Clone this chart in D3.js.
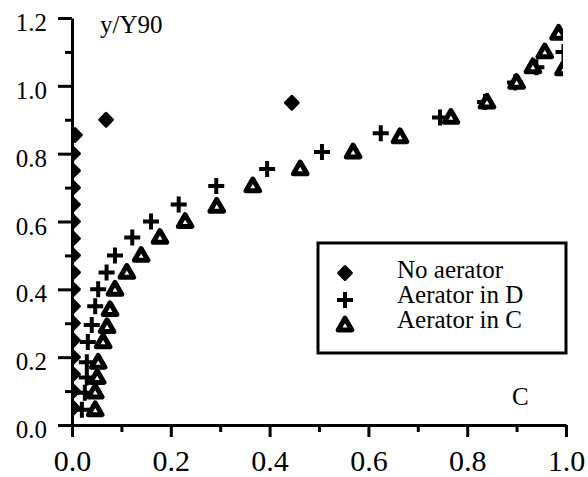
<!DOCTYPE html>
<html>
<head>
<meta charset="utf-8">
<script src="https://cdn.jsdelivr.net/npm/d3@7"></script>
<style>
  body { margin: 0; background: #fff; }
  svg { display: block; }
</style>
</head>
<body>
<script>
// y/Y90 against C for the three cases
var noAeratorC = [0.002, 0.002, 0.002, 0.002, 0.002, 0.002, 0.002, 0.002, 0.002, 0.002, 0.002, 0.002, 0.002, 0.002, 0.002, 0.002, 0.006, 0.069, 0.445];
var noAeratorY = [0.05, 0.10, 0.15, 0.20, 0.25, 0.30, 0.35, 0.40, 0.45, 0.50, 0.55, 0.60, 0.65, 0.70, 0.75, 0.80, 0.855, 0.90, 0.95];

var aeratorDC = [0.02, 0.026, 0.03, 0.03, 0.032, 0.04, 0.047, 0.053, 0.07, 0.087, 0.122, 0.16, 0.216, 0.292, 0.395, 0.506, 0.625, 0.745, 0.836, 0.897, 0.94, 0.995];
var aeratorDY = [0.045, 0.095, 0.14, 0.185, 0.245, 0.295, 0.35, 0.40, 0.45, 0.50, 0.553, 0.60, 0.65, 0.705, 0.755, 0.805, 0.86, 0.907, 0.952, 1.01, 1.055, 1.10];

var aeratorCC = [0.047, 0.047, 0.051, 0.053, 0.063, 0.071, 0.077, 0.087, 0.111, 0.14, 0.178, 0.229, 0.293, 0.366, 0.462, 0.569, 0.664, 0.767, 0.84, 0.90, 0.933, 0.957, 0.985, 0.995];
var aeratorCY = [0.045, 0.097, 0.14, 0.185, 0.245, 0.29, 0.34, 0.40, 0.45, 0.50, 0.553, 0.60, 0.645, 0.705, 0.755, 0.805, 0.85, 0.907, 0.952, 1.01, 1.056, 1.10, 1.155, 1.05];

var xTicks = [0, 0.2, 0.4, 0.6, 0.8, 1.0];
var xMinor = [0.1, 0.3, 0.5, 0.7, 0.9];
var yTicks = [0, 0.2, 0.4, 0.6, 0.8, 1.0, 1.2];
var yMinor = [0.1, 0.3, 0.5, 0.7, 0.9, 1.1];
var legendLabels = ["No aerator", "Aerator in D", "Aerator in C"];

var serif = "Liberation Serif, Times New Roman, serif";
var width = 588, height = 477;

var svg = d3.select("body").append("svg")
  .attr("width", width)
  .attr("height", height)
  .attr("font-family", serif);

var x = d3.scaleLinear().domain([0, 1]).range([72, 566]);
var y = d3.scaleLinear().domain([0, 1.2]).range([425, 18]);
var fmt = d3.format(".1f");

// clip so markers sitting on the edges get cut like in the original
svg.append("clipPath").attr("id", "plotClip")
  .append("rect")
  .attr("x", 72).attr("y", 0)
  .attr("width", 563 - 72).attr("height", 430);

// axes
var yAxis = svg.append("g")
  .attr("transform", "translate(" + x(0) + ",0)")
  .call(d3.axisLeft(y).tickValues(yTicks).tickSize(14).tickSizeOuter(0).tickPadding(11).tickFormat(fmt));
svg.append("g")
  .attr("transform", "translate(" + x(0) + ",0)")
  .call(d3.axisLeft(y).tickValues(yMinor).tickSize(7).tickSizeOuter(0).tickFormat(""))
  .select(".domain").remove();

var xAxis = svg.append("g")
  .attr("transform", "translate(0," + y(0) + ")")
  .call(d3.axisBottom(x).tickValues(xTicks).tickSize(12).tickSizeOuter(0).tickFormat(fmt));
svg.append("g")
  .attr("transform", "translate(0," + y(0) + ")")
  .call(d3.axisBottom(x).tickValues(xMinor).tickSize(7).tickSizeOuter(0).tickFormat(""))
  .select(".domain").remove();

svg.selectAll(".domain").attr("stroke", "#000").attr("stroke-width", 3);
svg.selectAll(".tick line").attr("stroke", "#000").attr("stroke-width", 3);

yAxis.attr("font-family", serif).attr("font-size", 25);
yAxis.selectAll("text").attr("dy", "0.5em").attr("fill", "#000");
xAxis.attr("font-family", serif).attr("font-size", 30);
xAxis.selectAll("text").attr("y", 46).attr("dy", 0).attr("fill", "#000");

// marker shapes
var diamond = d3.symbol().type(d3.symbolSquare).size(81);
var triangle = d3.symbol().type(d3.symbolTriangle).size(80);
var plusPath = "M-8,0H8M0,-8V8";

function drawDiamond(g, px, py) {
  g.append("path")
    .attr("d", diamond())
    .attr("transform", "translate(" + px + "," + py + ") rotate(45)")
    .attr("fill", "#000").attr("stroke", "#000")
    .attr("stroke-width", 3).attr("stroke-linejoin", "round");
}
function drawPlus(g, px, py) {
  g.append("path")
    .attr("d", plusPath)
    .attr("transform", "translate(" + px + "," + py + ")")
    .attr("fill", "none").attr("stroke", "#000").attr("stroke-width", 4);
}
function drawTriangle(g, px, py) {
  g.append("path")
    .attr("d", triangle())
    .attr("transform", "translate(" + px + "," + (py + 1) + ")")
    .attr("fill", "#fff").attr("stroke", "#000")
    .attr("stroke-width", 5).attr("stroke-linejoin", "round");
}

var marks = svg.append("g").attr("clip-path", "url(#plotClip)");

noAeratorC.forEach(function(c, i){ drawDiamond(marks, x(c), y(noAeratorY[i])); });
aeratorDC.forEach(function(c, i){ drawPlus(marks, x(c), y(aeratorDY[i])); });
aeratorCC.forEach(function(c, i){ drawTriangle(marks, x(c), y(aeratorCY[i])); });

// labels in the plot
svg.append("text").attr("x", 100).attr("y", 33)
  .attr("font-size", 25).text("y/Y90");
svg.append("text").attr("x", 512).attr("y", 405)
  .attr("font-size", 25).text("C");

// legend
var legend = svg.append("g");
legend.append("rect")
  .attr("x", 318).attr("y", 243)
  .attr("width", 248).attr("height", 110)
  .attr("fill", "#fff").attr("stroke", "#000").attr("stroke-width", 3);

var rowY = [275, 300, 325];
drawDiamond(legend, 345, rowY[0] - 2);
drawPlus(legend, 345, rowY[1]);
drawTriangle(legend, 345, rowY[2]);

legend.selectAll("text.leg")
  .data(legendLabels)
  .enter().append("text")
  .attr("class", "leg")
  .attr("x", 397)
  .attr("y", function(d, i){ return rowY[i] + 3; })
  .attr("font-size", 25)
  .text(function(d){ return d; });
</script>
</body>
</html>
